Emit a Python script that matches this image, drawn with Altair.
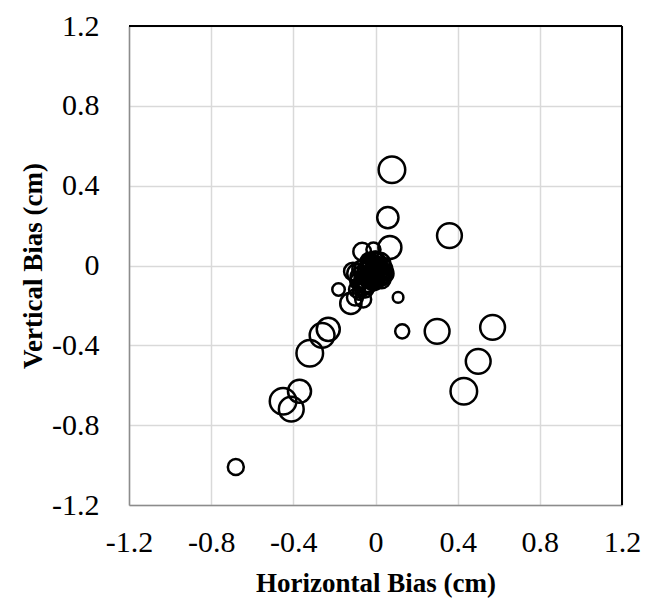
import altair as alt
import pandas as pd

# Bubble data: horizontal bias, vertical bias, bubble weight
h_bias = [0.08, 0.06, 0.36, 0.07, -0.065, -0.01,
          0.11, 0.13, 0.30, 0.57, 0.50, 0.43,
          -0.68, -0.45, -0.41, -0.37, -0.32, -0.26, -0.23,
          -0.18, -0.12, -0.10, -0.08, -0.06, -0.09, -0.07, -0.05, -0.03,
          -0.02, 0.00, 0.01, -0.04, -0.06, 0.02, -0.01, 0.03, -0.03,
          -0.08, 0.00, -0.05, 0.04, -0.11, -0.09,
          -0.04, -0.02, -0.01, 0.01, -0.03, -0.05, 0.00, -0.02, 0.02,
          -0.06, -0.04, -0.01, 0.01, -0.03, -0.07, 0.03, -0.02,
          0.02, 0.00, -0.01, 0.03]
v_bias = [0.48, 0.24, 0.15, 0.09, 0.07, 0.08,
          -0.16, -0.33, -0.33, -0.31, -0.48, -0.63,
          -1.01, -0.68, -0.72, -0.63, -0.44, -0.35, -0.32,
          -0.12, -0.19, -0.16, -0.14, -0.17, -0.04, -0.06, -0.02, -0.04,
          0.00, -0.02, -0.05, -0.08, -0.10, -0.01, -0.07, -0.07, 0.02,
          -0.08, 0.03, -0.12, -0.04, -0.03, -0.12,
          -0.03, -0.05, -0.02, -0.03, -0.06, -0.05, -0.04, -0.01, -0.03,
          -0.07, -0.09, -0.04, 0.00, -0.01, -0.02, -0.05, -0.06,
          0.01, 0.02, 0.01, -0.02]
weight = [100, 64, 87, 75, 44, 28,
          16, 28, 87, 87, 87, 100,
          36, 100, 87, 75, 100, 87, 75,
          22, 64, 36, 22, 36, 54, 64, 64, 75,
          64, 54, 75, 64, 54, 44, 64, 44, 44,
          44, 36, 36, 54, 44, 36,
          54, 64, 44, 54, 64, 44, 75, 54, 64,
          44, 54, 64, 44, 36, 44, 54, 36,
          64, 54, 75, 64]

df = pd.DataFrame({"h": h_bias, "v": v_bias, "w": weight})

font = "Liberation Serif"
ticks = [-1.2, -0.8, -0.4, 0, 0.4, 0.8, 1.2]
label_expr = "datum.value == 0 ? '0' : replace(format(datum.value, '.1f'), '\u2212', '-')"

xscale = alt.Scale(domain=[-1.2, 1.2], nice=False, zero=False)
yscale = alt.Scale(domain=[-1.2, 1.2], nice=False, zero=False)

axis_common = dict(
    values=ticks, labelExpr=label_expr,
    labelFont=font, labelFontSize=30, labelColor="black",
    titleFont=font, titleFontSize=27, titleFontWeight="bold", titleColor="black",
    tickSize=0, gridColor="#d9d9d9", gridWidth=1.5,
    domainColor="#8c8c8c", domainWidth=1.5, labelFlush=False,
)

points = alt.Chart(df).mark_point(
    shape="circle", filled=False, color="black", strokeWidth=2.5, opacity=1
).encode(
    x=alt.X("h:Q", scale=xscale,
            axis=alt.Axis(title="Horizontal Bias (cm)", labelPadding=22,
                          titlePadding=13, **axis_common)),
    y=alt.Y("v:Q", scale=yscale,
            axis=alt.Axis(title="Vertical Bias (cm)", labelPadding=30,
                          titlePadding=4, **axis_common)),
    size=alt.Size("w:Q", scale=alt.Scale(domain=[0, 100], range=[0, 707]), legend=None),
)

top_rule = alt.Chart(pd.DataFrame({"t": [1.2]})).mark_rule(color="black", strokeWidth=2).encode(
    y=alt.Y("t:Q", scale=yscale)
)
right_rule = alt.Chart(pd.DataFrame({"r": [1.2]})).mark_rule(color="black", strokeWidth=2).encode(
    x=alt.X("r:Q", scale=xscale)
)

chart = alt.layer(points, top_rule, right_rule).properties(
    width=493, height=479,
    autosize=alt.AutoSizeParams(type="none"),
    padding={"left": 129, "top": 26, "right": 23, "bottom": 100},
    background="white",
).configure_view(stroke=None)

chart.save("out.html", embed_options={"renderer": "svg", "actions": False})
